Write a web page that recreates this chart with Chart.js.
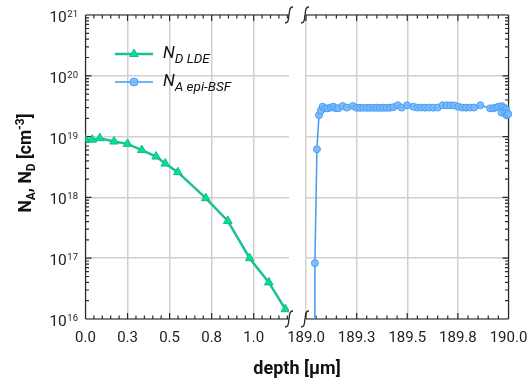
<!DOCTYPE html>
<html>
<head>
<meta charset="utf-8">
<script src="https://cdn.jsdelivr.net/npm/chart.js@4/dist/chart.umd.min.js"></script>
<style>
  html, body { margin: 0; padding: 0; background: #fff; }
  #wrap { position: relative; width: 527px; height: 384px; overflow: hidden; }
  #left { position: absolute; left: 0; top: 0; }
  #right { position: absolute; left: 260px; top: 0; }
  #xtitle { position: absolute; left: 197px; top: 358px; width: 200px; text-align: center;
            font: bold 18px Roboto, sans-serif; line-height: 20px; color: #111; }
</style>
</head>
<body>
<div id="wrap">
  <canvas id="left" width="300" height="384" style="width:300px;height:384px"></canvas>
  <canvas id="right" width="267" height="384" style="width:267px;height:384px"></canvas>
  <div id="xtitle">depth [µm]</div>
</div>
<script>
  // LDE donor profile (left panel)
  const ldeDepth = [0.0, 0.04, 0.085, 0.17, 0.25, 0.335, 0.42, 0.474, 0.549, 0.715, 0.846, 0.976, 1.09, 1.188];
  const ldeND = [8.9e18, 8.9e18, 9.4e18, 8.3e18, 7.6e18, 6.0e18, 4.7e18, 3.6e18, 2.6e18, 9.7e17, 4.1e17, 1.0e17, 4.0e16, 1.45e16];

  // epi-BSF acceptor profile (right panel)
  const bsfDepth = [189.044, 189.044, 189.054, 189.064, 189.073, 189.082, 189.094, 189.107, 189.122, 189.135,
    189.147, 189.160, 189.181, 189.201, 189.231, 189.250, 189.267, 189.283, 189.300, 189.316,
    189.333, 189.349, 189.365, 189.382, 189.398, 189.415, 189.431, 189.453, 189.473, 189.499,
    189.530, 189.550, 189.568, 189.588, 189.607, 189.629, 189.650, 189.675, 189.695, 189.714,
    189.732, 189.752, 189.772, 189.790, 189.810, 189.830, 189.861, 189.909, 189.925, 189.938,
    189.951, 189.966, 189.978, 189.988, 189.966, 189.983, 189.991, 189.999];
  const bsfNA = [1e15, 8.3e16, 6.2e18, 2.25e19, 2.67e19, 3.1e19, 2.92e19, 2.92e19, 3.0e19, 3.1e19,
    2.92e19, 2.92e19, 3.18e19, 3.0e19, 3.18e19, 2.98e19, 2.97e19, 2.98e19, 2.97e19, 2.98e19,
    2.97e19, 2.98e19, 2.97e19, 2.98e19, 2.97e19, 2.98e19, 3.05e19, 3.27e19, 3.0e19, 3.27e19,
    3.1e19, 3.0e19, 3.0e19, 2.99e19, 3.0e19, 2.99e19, 3.0e19, 3.27e19, 3.27e19, 3.27e19,
    3.25e19, 3.1e19, 3.0e19, 2.99e19, 3.0e19, 3.0e19, 3.27e19, 2.92e19, 2.92e19, 3.0e19,
    3.1e19, 3.18e19, 3.0e19, 2.8e19, 2.47e19, 2.43e19, 2.24e19, 2.35e19];

  const xTicksLeft = [0, 0.25, 0.5, 0.75, 1.0];
  const xLabelsLeft = ['0.0', '0.3', '0.5', '0.8', '1.0'];
  const xTicksRight = [189, 189.25, 189.5, 189.75, 190];
  const xLabelsRight = ['189.0', '189.3', '189.5', '189.8', '190.0'];
  const yTicks = [1e16, 1e17, 1e18, 1e19, 1e20, 1e21];
  const yExponents = ['16', '17', '18', '19', '20', '21'];

  const green = '#1abf9c';
  const blue = '#3d9df5';
  const blueFill = 'rgba(120,184,255,0.9)';
  const gridColor = '#d0d0d0';
  const frameColor = '#2a2a2a';
  const font = 'Roboto, sans-serif';

  // axis break mark
  const breakMark = (ctx, x, y) => {
    ctx.beginPath();
    ctx.moveTo(x + 4, y - 8);
    ctx.bezierCurveTo(x - 1, y - 8, x + 1, y - 2, x, y);
    ctx.bezierCurveTo(x - 1, y + 2, x + 1, y + 8, x - 4, y + 8);
    ctx.stroke();
  };

  // frame, inward ticks and break marks
  const framePlugin = (side, xStart) => ({
    id: 'frame',
    beforeDatasetsDraw(chart) {
      const { ctx, chartArea: a, scales: { x, y } } = chart;
      ctx.save();
      ctx.strokeStyle = frameColor;
      ctx.lineWidth = 1.2;
      ctx.beginPath();
      ctx.moveTo(a.left, a.top); ctx.lineTo(a.right, a.top);
      ctx.moveTo(a.left, a.bottom); ctx.lineTo(a.right, a.bottom);
      const ex = side === 'left' ? a.left : a.right;
      ctx.moveTo(ex, a.top); ctx.lineTo(ex, a.bottom);
      // x ticks every 0.05, major every 0.25
      for (let i = 0; ; i++) {
        const v = xStart + i * 0.05;
        if (v > x.max + 1e-9) break;
        const px = x.getPixelForValue(v);
        const len = i % 5 === 0 ? 6 : 3.5;
        ctx.moveTo(px, a.bottom); ctx.lineTo(px, a.bottom - len);
        ctx.moveTo(px, a.top); ctx.lineTo(px, a.top + len);
      }
      // log y ticks
      const dir = side === 'left' ? 1 : -1;
      for (let d = 16; d <= 21; d++) {
        for (let k = 1; k <= 9; k++) {
          if (d === 21 && k > 1) break;
          const py = y.getPixelForValue(k * Math.pow(10, d));
          const len = k === 1 ? 6 : 3.5;
          ctx.moveTo(ex, py); ctx.lineTo(ex + dir * len, py);
        }
      }
      ctx.stroke();
      const bx = side === 'left' ? a.right : a.left - 1;
      ctx.lineWidth = 1.3;
      breakMark(ctx, bx, a.top);
      breakMark(ctx, bx, a.bottom);
      ctx.restore();
    }
  });

  // draws runs of text with sub/superscripts
  const drawRuns = (ctx, runs, x, y) => {
    runs.forEach(r => {
      ctx.font = r.font;
      ctx.fillText(r.t, x, y + (r.dy || 0));
      x += ctx.measureText(r.t).width;
    });
  };
  const runsWidth = (ctx, runs) => runs.reduce((s, r) => { ctx.font = r.font; return s + ctx.measureText(r.t).width; }, 0);

  const labelsPlugin = {
    id: 'labels',
    afterDraw(chart) {
      const { ctx, scales: { y } } = chart;
      ctx.save();
      ctx.fillStyle = '#222';
      ctx.textAlign = 'left';
      ctx.textBaseline = 'alphabetic';
      // y tick labels 10^n
      yTicks.forEach((v, i) => {
        const py = y.getPixelForValue(v);
        ctx.font = '9.5px ' + font;
        const w = ctx.measureText(yExponents[i]).width;
        ctx.fillText(yExponents[i], 78 - w, py + 2);
        ctx.font = '15.5px ' + font;
        const w2 = ctx.measureText('10').width;
        ctx.fillText('10', 78 - w - w2 - 0.5, py + 7);
      });

      // y axis title
      const big = 'bold 17.5px ' + font, small = 'bold 12px ' + font;
      const title = [
        { t: 'N', font: big }, { t: 'A', font: small, dy: 4 }, { t: ', N', font: big },
        { t: 'D', font: small, dy: 4 }, { t: ' [cm', font: big }, { t: '-3', font: small, dy: -7 },
        { t: ']', font: big }
      ];
      ctx.save();
      ctx.translate(25, 163);
      ctx.rotate(-Math.PI / 2);
      ctx.fillStyle = '#111';
      drawRuns(ctx, title, -runsWidth(ctx, title) / 2, 6);
      ctx.restore();

      // legend
      const entries = [
        { y: 54, color: green, style: 'triangle', r: 5, fill: '#00e38a', border: '#17b894',
          runs: [{ t: 'N', font: 'italic 17px ' + font }, { t: 'D LDE', font: 'italic 13.5px ' + font, dy: 5 }] },
        { y: 82, color: blue, style: 'circle', r: 4, fill: blueFill, border: '#4a9ef0',
          runs: [{ t: 'N', font: 'italic 17px ' + font }, { t: 'A epi-BSF', font: 'italic 13.5px ' + font, dy: 5 }] }
      ];
      entries.forEach(e => {
        ctx.strokeStyle = e.color;
        ctx.lineWidth = e.style === 'triangle' ? 2.5 : 1.5;
        ctx.beginPath(); ctx.moveTo(115, e.y); ctx.lineTo(153, e.y); ctx.stroke();
        ctx.fillStyle = e.fill;
        ctx.strokeStyle = e.border;
        ctx.lineWidth = 1;
        Chart.helpers.drawPoint(ctx, { pointStyle: e.style, radius: e.r, rotation: 0, borderWidth: 1 }, 134, e.y);
        ctx.fillStyle = '#111';
        drawRuns(ctx, e.runs, 163, e.y + 3.5);
      });
      ctx.restore();
    }
  };

  const xAxis = (min, max, ticks, labels) => ({
    type: 'linear', min, max,
    afterBuildTicks: s => { s.ticks = ticks.map(v => ({ value: v })); },
    afterFit: s => { s.height = 65; s.paddingLeft = 0; s.paddingRight = 0; },
    ticks: { callback: (v, i) => labels[i], font: { family: font, size: 15 }, color: '#222',
             padding: 10, maxRotation: 0, autoSkip: false },
    grid: { color: gridColor, lineWidth: 1.5, drawTicks: false },
    border: { display: false }
  });
  const yAxis = width => ({
    type: 'logarithmic', min: 1e16, max: 1e21,
    afterBuildTicks: s => { s.ticks = yTicks.map(v => ({ value: v })); },
    afterFit: s => { s.width = width; },
    ticks: { display: false },
    grid: { color: gridColor, lineWidth: 1.5, drawTicks: false },
    border: { display: false }
  });

  new Chart(document.getElementById('left'), {
    type: 'scatter',
    data: {
      datasets: [{
        data: ldeDepth.map((d, i) => ({ x: d, y: ldeND[i] })),
        showLine: true,
        borderColor: green,
        borderWidth: 2.5,
        pointStyle: 'triangle',
        pointRadius: 5,
        pointBackgroundColor: '#00e38a',
        pointBorderColor: '#17b894',
        pointBorderWidth: 1
      }]
    },
    options: {
      responsive: false,
      animation: false,
      layout: { padding: { top: 15, left: 0, right: 11, bottom: 0 } },
      scales: { x: xAxis(0, 1.21, xTicksLeft, xLabelsLeft), y: yAxis(85.5) },
      plugins: { legend: { display: false }, tooltip: { enabled: false } }
    },
    plugins: [framePlugin('left', 0), labelsPlugin]
  });

  new Chart(document.getElementById('right'), {
    type: 'scatter',
    data: {
      datasets: [{
        data: bsfDepth.map((d, i) => ({ x: d, y: bsfNA[i] })),
        showLine: true,
        borderColor: blue,
        borderWidth: 1.5,
        pointStyle: 'circle',
        pointRadius: 3.5,
        pointBackgroundColor: blueFill,
        pointBorderColor: '#4a9ef0',
        pointBorderWidth: 1,
        clip: { left: 6, top: 6, right: 6, bottom: 0 }
      }]
    },
    options: {
      responsive: false,
      animation: false,
      layout: { padding: { top: 15, left: 46, right: 18.5, bottom: 0 } },
      scales: { x: xAxis(189, 190, xTicksRight, xLabelsRight), y: yAxis(0) },
      plugins: { legend: { display: false }, tooltip: { enabled: false } }
    },
    plugins: [framePlugin('right', 189)]
  });
</script>
</body>
</html>
